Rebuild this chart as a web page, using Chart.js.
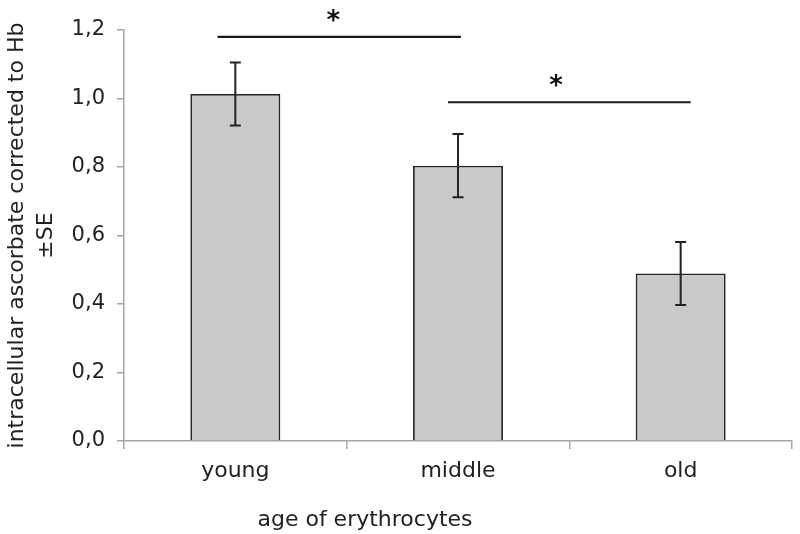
<!DOCTYPE html>
<html>
<head>
<meta charset="utf-8">
<script src="https://cdn.jsdelivr.net/npm/chart.js@4/dist/chart.umd.min.js"></script>
<style>
  html, body { margin: 0; padding: 0; background: #fff; }
  #wrap { width: 800px; height: 534px; }
</style>
</head>
<body>
<div id="wrap"><canvas id="c" width="800" height="534"></canvas></div>
<script>
const categories = ["young", "middle", "old"];
const meanValues = [1.013, 0.804, 0.489];
const seValues = [0.092, 0.092, 0.092];
const yTicks = [0, 0.2, 0.4, 0.6, 0.8, 1.0, 1.2];
// significance brackets: [xStart, xEnd (category units), y value]
const sigX1 = [-0.08, 0.955];
const sigX2 = [1.013, 2.045];
const sigY = [1.18, 0.989];
const sigLabels = ["*", "*"];
const starX = [0.44, 1.44];
const starY = [1.24, 1.05];
const xTitle = "age of erythrocytes";
const yTitle = ["intracellular ascorbate corrected to Hb", "±SE"];

const FONT = "'DejaVu Sans', sans-serif";
const AXIS = "#a6a6a6";
const TEXT = "#222222";

const overlay = {
  id: "overlay",
  afterDatasetsDraw(chart) {
    const ctx = chart.ctx;
    const xs = chart.scales.x, ys = chart.scales.y;
    ctx.save();
    ctx.strokeStyle = "#222";
    ctx.lineWidth = 2;
    meanValues.forEach((v, i) => {
      const x = xs.getPixelForValue(i);
      const yt = ys.getPixelForValue(v + seValues[i]);
      const yb = ys.getPixelForValue(v - seValues[i]);
      ctx.beginPath();
      ctx.moveTo(x, yt); ctx.lineTo(x, yb);
      ctx.moveTo(x - 5.5, yt); ctx.lineTo(x + 5.5, yt);
      ctx.moveTo(x - 5.5, yb); ctx.lineTo(x + 5.5, yb);
      ctx.stroke();
    });
    ctx.lineWidth = 2.2;
    ctx.strokeStyle = "#1a1a1a";
    sigY.forEach((v, i) => {
      const y = ys.getPixelForValue(v);
      ctx.beginPath();
      ctx.moveTo(xs.getPixelForValue(sigX1[i]), y);
      ctx.lineTo(xs.getPixelForValue(sigX2[i]), y);
      ctx.stroke();
      ctx.fillStyle = "#111";
      ctx.font = "bold 26px " + FONT;
      ctx.textAlign = "center";
      ctx.textBaseline = "middle";
      ctx.fillText(sigLabels[i], xs.getPixelForValue(starX[i]), ys.getPixelForValue(starY[i]) + 6);
    });
    // x axis title (offset to the left like the reference)
    ctx.fillStyle = TEXT;
    ctx.font = "22px " + FONT;
    ctx.textAlign = "center";
    ctx.textBaseline = "alphabetic";
    ctx.fillText(xTitle, 365, 526);
    ctx.restore();
  }
};

new Chart(document.getElementById("c"), {
  type: "bar",
  data: {
    labels: categories,
    datasets: [{
      data: meanValues,
      backgroundColor: "#c9c9c9",
      borderColor: "#262626",
      borderWidth: 1.8,
      borderSkipped: "bottom",
      categoryPercentage: 1.0,
      barPercentage: 0.404
    }]
  },
  options: {
    responsive: false,
    animation: false,
    devicePixelRatio: 1,
    layout: { padding: { top: 30, right: 8, left: 0, bottom: 0 } },
    plugins: { legend: { display: false }, tooltip: { enabled: false } },
    scales: {
      x: {
        grid: { display: true, drawOnChartArea: false, offset: true, tickLength: 8, color: AXIS, lineWidth: 1.5 },
        border: { color: AXIS, width: 1.5 },
        ticks: { color: TEXT, font: { family: FONT, size: 22 }, padding: 9 },
        afterFit(s) { s.height = 93; }
      },
      y: {
        min: 0, max: 1.2,
        afterBuildTicks(s) { s.ticks = yTicks.map(v => ({ value: v })); },
        grid: { display: true, drawOnChartArea: false, tickLength: 7, color: AXIS, lineWidth: 1.5 },
        border: { color: AXIS, width: 1.5 },
        ticks: {
          color: TEXT, font: { family: FONT, size: 21 }, padding: 12,
          callback: v => v.toFixed(1).replace(".", ",")
        },
        title: { display: true, text: yTitle, color: TEXT, font: { family: FONT, size: 22, lineHeight: 1.3 }, padding: { top: 3, bottom: 4 } },
        afterFit(s) { s.width = 124; }
      }
    }
  },
  plugins: [overlay]
});
</script>
</body>
</html>
